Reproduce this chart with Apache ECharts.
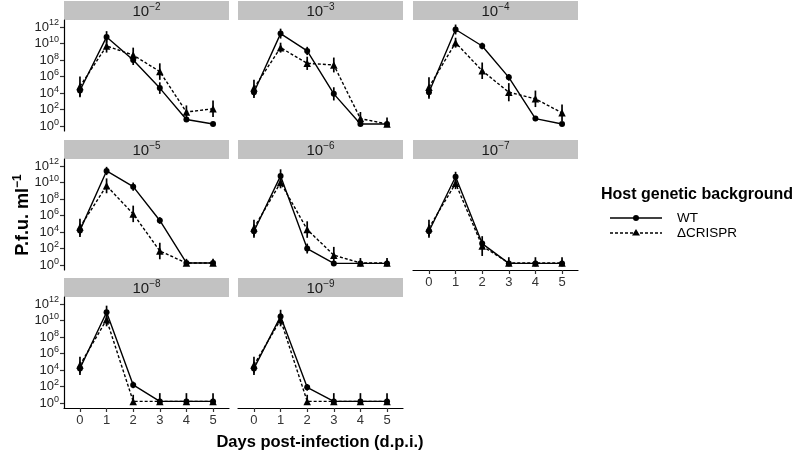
<!DOCTYPE html>
<html><head><meta charset="utf-8">
<script src="https://cdn.jsdelivr.net/npm/echarts@6/dist/echarts.min.js"></script>
<style>html,body{margin:0;padding:0;background:#fff}#c{width:800px;height:457px}</style>
</head><body><div id="c"></div>
<script>
const days = [0, 1, 2, 3, 4, 5];
const panelExponents = ['−2', '−3', '−4', '−5', '−6', '−7', '−8', '−9'];
const yTicks = [0, 2, 4, 6, 8, 10, 12];
const seriesNames = ['WT', 'ΔCRISPR'];
// values are log10(P.f.u. ml^-1)
const wt_2 = [4.3, 10.8, 8.0, 4.6, 0.8, 0.25];
const dc_2 = [4.8, 9.7, 8.6, 6.6, 1.7, 2.1];
const wtErr_2 = [0.8, 0.7, 0.6, 0.7, 0.2, 0.2];
const dcErr_2 = [1.2, 0.8, 0.9, 1.0, 0.8, 1.0];
const wt_3 = [4.1, 11.2, 9.1, 3.9, 0.25, 0.25];
const dc_3 = [4.6, 9.5, 7.6, 7.4, 0.9, 0.25];
const wtErr_3 = [0.7, 0.6, 0.5, 0.8, 0.2, 0.2];
const dcErr_3 = [1.0, 0.6, 0.8, 0.9, 0.8, 0.8];
const wt_4 = [4.1, 11.7, 9.7, 5.9, 0.9, 0.25];
const dc_4 = [4.7, 10.1, 6.7, 4.1, 3.3, 1.6];
const wtErr_4 = [0.8, 0.6, 0.4, 0.4, 0.3, 0.2];
const dcErr_4 = [1.2, 0.6, 1.0, 1.1, 1.0, 1.0];
const wt_5 = [4.2, 11.4, 9.5, 5.4, 0.25, 0.25];
const dc_5 = [4.6, 9.6, 6.2, 1.7, 0.25, 0.25];
const wtErr_5 = [0.8, 0.5, 0.5, 0.4, 0.1, 0.1];
const dcErr_5 = [1.0, 0.9, 1.0, 1.0, 0.5, 0.5];
const wt_6 = [4.1, 10.8, 2.0, 0.2, 0.2, 0.2];
const dc_6 = [4.5, 10.0, 4.3, 1.2, 0.25, 0.25];
const wtErr_6 = [0.8, 0.8, 0.6, 0.1, 0.1, 0.1];
const dcErr_6 = [1.0, 0.7, 1.0, 1.0, 0.6, 0.6];
const wt_7 = [4.1, 10.7, 2.6, 0.2, 0.2, 0.2];
const dc_7 = [4.5, 9.9, 2.3, 0.25, 0.25, 0.25];
const wtErr_7 = [0.8, 0.6, 0.5, 0.1, 0.1, 0.1];
const dcErr_7 = [1.0, 0.7, 1.2, 0.7, 0.7, 0.7];
const wt_8 = [4.2, 11.0, 2.2, 0.2, 0.2, 0.2];
const dc_8 = [4.6, 10.1, 0.2, 0.2, 0.2, 0.2];
const wtErr_8 = [0.8, 0.8, 0.4, 0.1, 0.1, 0.1];
const dcErr_8 = [1.0, 0.8, 0.8, 1.0, 1.0, 1.0];
const wt_9 = [4.2, 10.5, 1.9, 0.2, 0.2, 0.2];
const dc_9 = [4.6, 10.1, 0.2, 0.2, 0.2, 0.2];
const wtErr_9 = [0.8, 0.8, 0.4, 0.1, 0.1, 0.1];
const dcErr_9 = [1.0, 0.8, 0.8, 1.0, 1.0, 1.0];

const wtAll = [wt_2, wt_3, wt_4, wt_5, wt_6, wt_7, wt_8, wt_9];
const dcAll = [dc_2, dc_3, dc_4, dc_5, dc_6, dc_7, dc_8, dc_9];
const wtErrAll = [wtErr_2, wtErr_3, wtErr_4, wtErr_5, wtErr_6, wtErr_7, wtErr_8, wtErr_9];
const dcErrAll = [dcErr_2, dcErr_3, dcErr_4, dcErr_5, dcErr_6, dcErr_7, dcErr_8, dcErr_9];

const FONT = '"Liberation Sans", Arial, sans-serif';
const colLeft = [64, 238, 413], rowTop = [20, 159, 297];
const PW = 165, PH = 111, SH = 19;
const bottomPanels = [5, 6, 7];

const grids = [], xAxes = [], yAxes = [], series = [], graphics = [];
for (let i = 0; i < 8; i++) {
  const r = Math.floor(i / 3), c = i % 3;
  grids.push({left: colLeft[c], top: rowTop[r], width: PW, height: PH});
  const showX = bottomPanels.includes(i);
  const showY = c === 0;
  xAxes.push({
    type: 'value', gridIndex: i, min: -0.6, max: 5.6,
    axisLine: {show: showX, onZero: false, lineStyle: {color: '#000', width: 1.2}},
    axisTick: {show: showX, customValues: days, length: 4, lineStyle: {color: '#333', width: 1.2}},
    axisLabel: {show: showX, customValues: days, color: '#333', fontSize: 13, fontFamily: FONT, margin: 6},
    splitLine: {show: false}
  });
  yAxes.push({
    type: 'value', gridIndex: i, min: -0.6, max: 12.85,
    axisLine: {show: showY, onZero: false, lineStyle: {color: '#000', width: 1.2}},
    axisTick: {show: showY, customValues: yTicks, length: 4, lineStyle: {color: '#333', width: 1.2}},
    axisLabel: {
      show: showY, customValues: yTicks, margin: 5,
      formatter: v => '{a|10}{b|' + v + '}',
      rich: {
        a: {fontSize: 13, color: '#222', fontFamily: FONT},
        b: {fontSize: 9, color: '#222', fontFamily: FONT, padding: [0, 0, 8, 0]}
      }
    },
    splitLine: {show: false}
  });
  // strip
  graphics.push({type: 'rect', shape: {x: colLeft[c], y: rowTop[r] - SH, width: PW, height: SH},
    style: {fill: '#c2c2c2'}, silent: true});
  graphics.push({type: 'text', x: colLeft[c] + PW / 2, y: rowTop[r] - SH / 2 + 1,
    style: {text: '{a|10}{b|' + panelExponents[i] + '}', align: 'center', verticalAlign: 'middle',
      rich: {a: {fontSize: 15, fill: '#1a1a1a', fontFamily: FONT},
             b: {fontSize: 10, fill: '#1a1a1a', fontFamily: FONT, padding: [0, 0, 9, 0]}}}});

  const groups = [[wtAll[i], wtErrAll[i], 'circle', 6, 'solid'], [dcAll[i], dcErrAll[i], 'triangle', 7.5, [3, 2]]];
  groups.forEach((g, k) => {
    const vals = g[0], errs = g[1];
    series.push({
      type: 'custom', xAxisIndex: i, yAxisIndex: i, silent: true, z: 3,
      data: days.map((d, j) => [d, vals[j] <= 0.3 ? vals[j] : vals[j] - errs[j], vals[j] + errs[j]]),
      encode: {x: 0, y: [1, 2]},
      renderItem: (params, api) => {
        const p1 = api.coord([api.value(0), api.value(1)]);
        const p2 = api.coord([api.value(0), api.value(2)]);
        return {type: 'line', shape: {x1: p1[0], y1: p1[1], x2: p2[0], y2: p2[1]},
          style: {stroke: '#000', lineWidth: 1.7}};
      }
    });
    series.push({
      type: 'line', name: seriesNames[k], xAxisIndex: i, yAxisIndex: i, z: 4,
      data: days.map((d, j) => [d, vals[j]]),
      symbol: g[2], symbolSize: g[3], showSymbol: true,
      itemStyle: {color: '#000'},
      lineStyle: {color: '#000', width: 1.4, type: g[4]}
    });
  });
}

// axis titles
graphics.push({type: 'text', x: 23, y: 215, rotation: Math.PI / 2,
  style: {text: '{a|P.f.u. ml}{b|−1}', align: 'center', verticalAlign: 'middle',
    rich: {a: {fontSize: 18, fontWeight: 'bold', fill: '#000', fontFamily: FONT},
           b: {fontSize: 12, fontWeight: 'bold', fill: '#000', fontFamily: FONT, padding: [0, 0, 10, 0]}}}});
graphics.push({type: 'text', x: 320, y: 442,
  style: {text: 'Days post-infection (d.p.i.)', align: 'center', verticalAlign: 'middle',
    fontSize: 16.5, fontWeight: 'bold', fill: '#000', fontFamily: FONT}});
// legend
graphics.push({type: 'text', x: 601, y: 195,
  style: {text: 'Host genetic background', align: 'left', verticalAlign: 'middle',
    fontSize: 16, fontWeight: 'bold', fill: '#000', fontFamily: FONT}});
const legY = [218, 233];
graphics.push({type: 'line', shape: {x1: 610, y1: legY[0], x2: 662, y2: legY[0]}, style: {stroke: '#000', lineWidth: 1.4}});
graphics.push({type: 'circle', shape: {cx: 636, cy: legY[0], r: 3}, style: {fill: '#000'}});
graphics.push({type: 'line', shape: {x1: 610, y1: legY[1], x2: 662, y2: legY[1]}, style: {stroke: '#000', lineWidth: 1.4, lineDash: [3, 2]}});
graphics.push({type: 'polygon', shape: {points: [[636, legY[1] - 4], [632, legY[1] + 2.5], [640, legY[1] + 2.5]]}, style: {fill: '#000'}});
seriesNames.forEach((n, k) => graphics.push({type: 'text', x: 677, y: legY[k],
  style: {text: n, align: 'left', verticalAlign: 'middle', fontSize: 13.5, fill: '#000', fontFamily: FONT}}));

const chart = echarts.init(document.getElementById('c'), null, {renderer: 'canvas'});
chart.setOption({
  animation: false, backgroundColor: '#fff',
  grid: grids, xAxis: xAxes, yAxis: yAxes, series: series, graphic: graphics
});
</script></body></html>
